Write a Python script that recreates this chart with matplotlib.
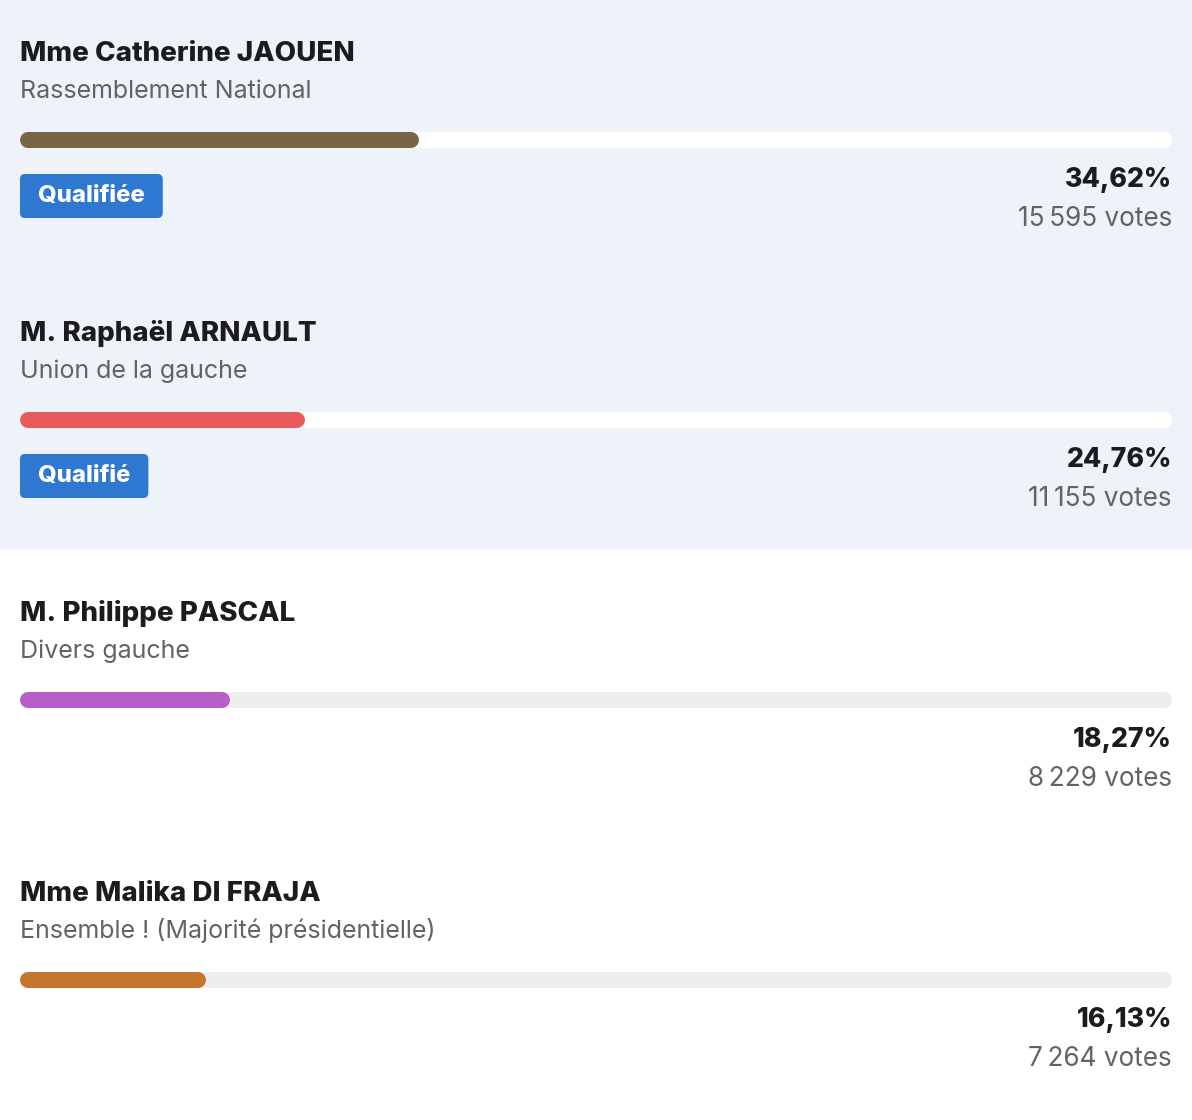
import matplotlib
matplotlib.use("Agg")
import matplotlib.pyplot as plt
from matplotlib.patches import FancyBboxPatch, Rectangle

plt.rcParams["font.family"] = ["Inter", "DejaVu Sans"]

# ---- data -------------------------------------------------------------
names = ["Mme Catherine JAOUEN", "M. Raphaël ARNAULT",
         "M. Philippe PASCAL", "Mme Malika DI FRAJA"]
parties = ["Rassemblement National", "Union de la gauche",
           "Divers gauche", "Ensemble ! (Majorité présidentielle)"]
pcts = [34.62, 24.76, 18.27, 16.13]
votes = [15595, 11155, 8229, 7264]
status = ["Qualifiée", "Qualifié", None, None]
bar_colors = ["#766646", "#e85b5b", "#b75ec8", "#c4772c"]

W, H, DPI = 1192, 1120, 100
LEFT, RIGHT = 20, 1172
BLOCK = 280
BAR_H = 16
QUAL_BG = "#eef2f9"
BADGE = "#2e78d2"
DARK = "#1c1c1c"
GREY = "#636363"


def fmt_pct(v):
    return f"{v:.2f}".replace(".", ",") + "%"


def fmt_votes(v):
    return f"{v:,}".replace(",", "\u2009") + " votes"


fig = plt.figure(figsize=(W / DPI, H / DPI), dpi=DPI)
ax = fig.add_axes([0, 0, 1, 1])
ax.set_xlim(0, W)
ax.set_ylim(H, 0)
ax.axis("off")

n_qual = sum(s is not None for s in status)
ax.add_patch(Rectangle((0, 0), W, n_qual * BLOCK - 12, color=QUAL_BG, zorder=0))

lw_pt = BAR_H * 72 / DPI
for i, name in enumerate(names):
    y0 = i * BLOCK
    qualified = status[i] is not None
    ax.text(LEFT, y0 + 61, name, fontsize=20, fontweight="heavy", color=DARK,
            va="baseline", ha="left")
    ax.text(LEFT, y0 + 98, parties[i], fontsize=18, color=GREY,
            va="baseline", ha="left")
    ax.text(RIGHT, y0 + 187, fmt_pct(pcts[i]), fontsize=19.2, fontweight="heavy",
            color=DARK, va="baseline", ha="right")
    ax.text(RIGHT, y0 + 226, fmt_votes(votes[i]), fontsize=18.8, color=GREY,
            va="baseline", ha="right")

    if qualified:
        t = ax.text(LEFT + 18, y0 + 196, status[i], fontsize=17.2, fontweight="heavy",
                    color="white", va="center", ha="left", zorder=3)
        fig.canvas.draw()
        bb = t.get_window_extent().transformed(ax.transData.inverted())
        bw = bb.x1 - LEFT + 18
        ax.add_patch(FancyBboxPatch((LEFT, y0 + 174), bw, 44,
                                    boxstyle="round,pad=0,rounding_size=5",
                                    fc=BADGE, ec="none", zorder=2))

    # bar axes: 0..100 %
    bar_y = y0 + 140
    bax = fig.add_axes([LEFT / W, 1 - (bar_y + BAR_H / 2) / H,
                        (RIGHT - LEFT) / W, BAR_H / H])
    bax.set_xlim(0, 100)
    bax.set_ylim(0, 1)
    bax.axis("off")
    r = (BAR_H / 2) * 100 / (RIGHT - LEFT)
    track = "white" if qualified else "#eeeeee"
    bax.plot([r, 100 - r], [0.5, 0.5], color=track, lw=lw_pt,
             solid_capstyle="round", clip_on=False)
    bax.plot([r, pcts[i] - r], [0.5, 0.5], color=bar_colors[i], lw=lw_pt,
             solid_capstyle="round", clip_on=False)

fig.savefig("out.png", dpi=DPI)
